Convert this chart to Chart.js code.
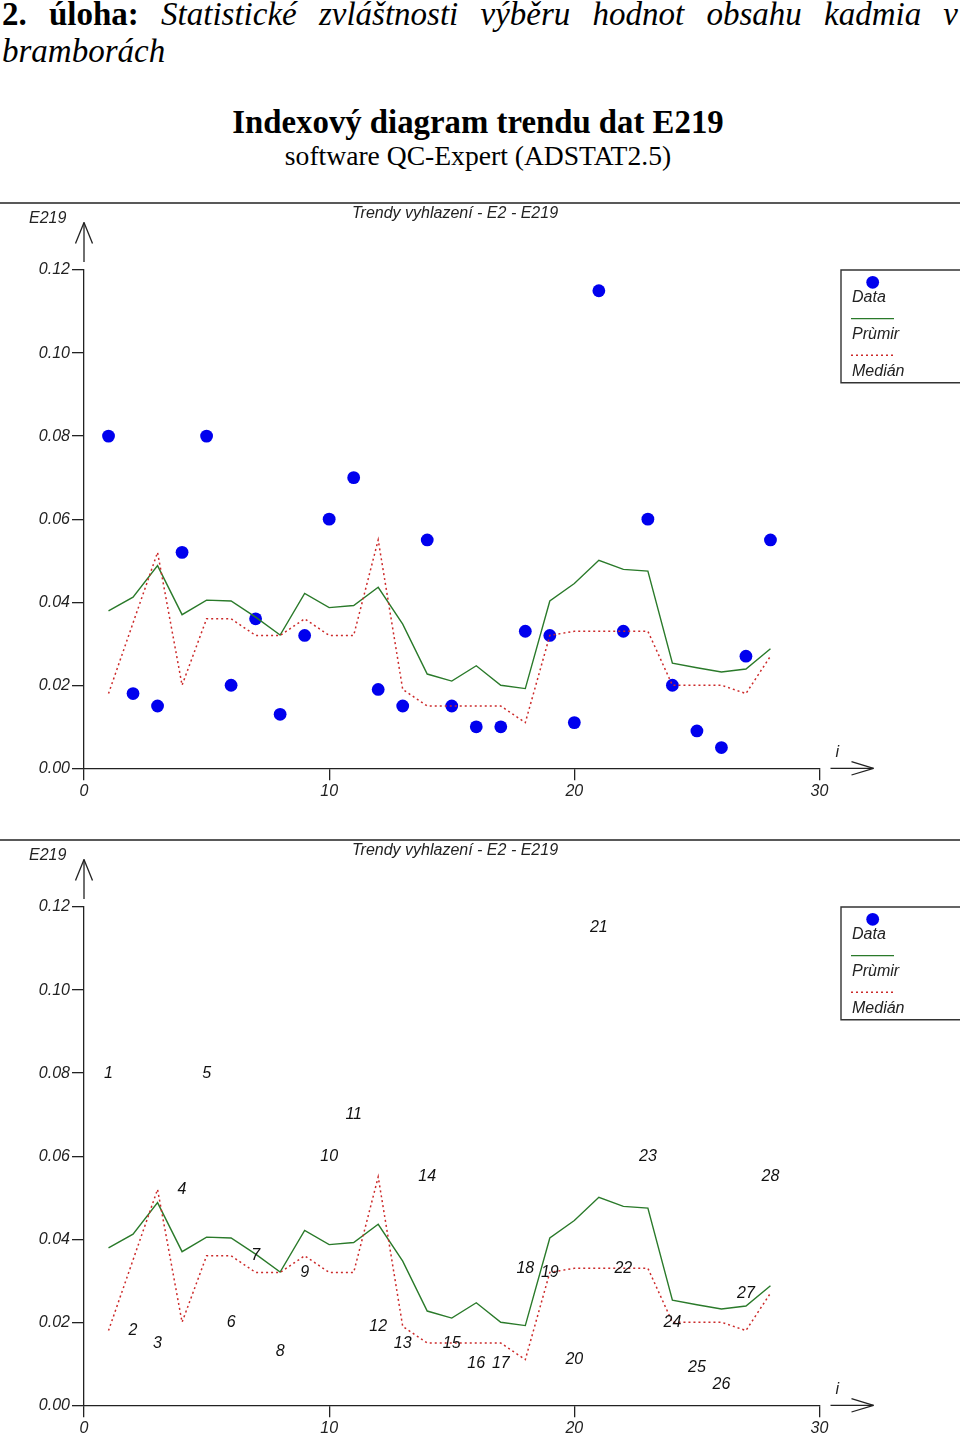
<!DOCTYPE html>
<html>
<head>
<meta charset="utf-8">
<script src="https://cdn.jsdelivr.net/npm/chart.js@4.4.1/dist/chart.umd.min.js"></script>
<style>
html,body{margin:0;padding:0;background:#fff;width:960px;height:1434px;overflow:hidden}
#page{position:relative;width:960px;height:1434px;overflow:hidden;background:#fff}
#l1{position:absolute;left:2px;top:-4px;width:956px;font-family:"Liberation Serif","Times New Roman",serif;font-size:33px;line-height:37px;text-align:justify;color:#000}
#title{position:absolute;left:0;top:106px;width:956px;text-align:center;font-family:"Liberation Serif","Times New Roman",serif;font-weight:bold;font-size:32.8px;line-height:33px;color:#000}
#sub{position:absolute;left:0;top:142px;width:956px;text-align:center;font-family:"Liberation Serif","Times New Roman",serif;font-size:27.6px;line-height:28px;color:#000}
canvas{position:absolute;left:0}
</style>
</head>
<body>
<div id="page">
<div id="l1"><b>2. úloha:</b> <i>Statistické zvláštnosti výběru hodnot obsahu kadmia v bramborách</i></div>
<div id="title">Indexový diagram trendu dat E219</div>
<div id="sub">software QC-Expert (ADSTAT2.5)</div>
<canvas id="c1" width="960" height="637" style="top:196px"></canvas>
<canvas id="c2" width="960" height="637" style="top:833px"></canvas>
</div>
<script>
// ---- data ----
const indices = [1,2,3,4,5,6,7,8,9,10,11,12,13,14,15,16,17,18,19,20,21,22,23,24,25,26,27,28];
const dataValues = [0.080,0.018,0.015,0.052,0.080,0.020,0.036,0.013,0.032,0.060,0.070,0.019,0.015,0.055,
                    0.015,0.010,0.010,0.033,0.032,0.011,0.115,0.033,0.060,0.020,0.009,0.005,0.027,0.055];
const meanValues = [0.0379,0.0412,0.0488,0.0370,0.0405,0.0403,0.0364,0.0321,0.0421,0.0387,0.0392,0.0436,0.0347,0.0227,
                    0.0210,0.0247,0.0200,0.0192,0.0403,0.0445,0.0501,0.0479,0.0475,0.0253,0.0242,0.0232,0.0239,0.0288];
const medianValues = [0.018,0.035,0.052,0.020,0.036,0.036,0.032,0.032,0.036,0.032,0.032,0.055,0.019,0.015,
                      0.015,0.015,0.015,0.011,0.032,0.033,0.033,0.033,0.033,0.020,0.020,0.020,0.018,0.027];
const xTicks = [0,10,20,30];
const xTickLabels = ['0','10','20','30'];
const yTicks = [0,0.02,0.04,0.06,0.08,0.10,0.12];
const yTickLabels = ['0.00','0.02','0.04','0.06','0.08','0.10','0.12'];
const legendLabels = ['Data','Prùmir','Medián'];
const yAxisTitle = 'E219';
const xAxisTitle = 'i';
const chartTitle = 'Trendy vyhlazení - E2 - E219';

// ---- styles ----
const BLUE = '#0000ee';
const GREEN = '#2a7a2a';
const RED = '#cc2a2a';
const AXIS = '#222222';
const FONT = '"Liberation Sans", Arial, sans-serif';

function seg(ctx,x1,y1,x2,y2){ctx.beginPath();ctx.moveTo(x1,y1);ctx.lineTo(x2,y2);ctx.stroke();}

const overlay = {
  id:'overlay',
  afterDatasetsDraw(chart, args, opts){
    if(!opts.labels) return;
    const ctx = chart.ctx;
    const meta = chart.getDatasetMeta(0);
    ctx.save();
    ctx.font = 'italic 16px ' + FONT;
    ctx.fillStyle = '#111';
    ctx.textAlign = 'center';
    ctx.textBaseline = 'alphabetic';
    meta.data.forEach((pt,i)=>{ ctx.fillText(String(indices[i]), pt.x, pt.y + 4.5); });
    ctx.restore();
  },
  afterDraw(chart){
    const {ctx, chartArea:{left,top,right,bottom}} = chart;
    ctx.save();
    ctx.strokeStyle = AXIS; ctx.lineWidth = 1.3;
    // header rule
    seg(ctx, 0, top-67, chart.width, top-67);
    // y arrow
    seg(ctx, left, top-8, left, top-47.5);
    seg(ctx, left-8.5, top-26.5, left, top-47.5);
    seg(ctx, left+8.5, top-26.5, left, top-47.5);
    // x arrow
    seg(ctx, right+11, bottom, right+54, bottom);
    seg(ctx, right+32, bottom-6.7, right+54, bottom);
    seg(ctx, right+32, bottom+6.7, right+54, bottom);
    // texts
    ctx.fillStyle = '#222';
    ctx.font = 'italic 16px ' + FONT;
    ctx.textAlign = 'left'; ctx.textBaseline = 'alphabetic';
    ctx.fillText(yAxisTitle, 29, top-47.3);
    ctx.fillText(chartTitle, 352, top-52.5);
    ctx.fillText(xAxisTitle, right+16, bottom-11.6);
    // legend (open on the right edge of the page)
    const lx = 841, lh = 112.7;
    ctx.strokeStyle = '#333'; ctx.lineWidth = 1.4;
    ctx.beginPath();
    ctx.moveTo(chart.width, top); ctx.lineTo(lx, top); ctx.lineTo(lx, top+lh); ctx.lineTo(chart.width, top+lh);
    ctx.stroke();
    ctx.fillStyle = BLUE;
    ctx.beginPath(); ctx.arc(872.7, top+12.3, 6.4, 0, Math.PI*2); ctx.fill();
    ctx.fillStyle = '#222';
    ctx.fillText(legendLabels[0], 852, top+31.7);
    ctx.strokeStyle = GREEN; ctx.lineWidth = 1.3;
    seg(ctx, 851, top+48.7, 894, top+48.7);
    ctx.fillText(legendLabels[1], 852, top+69.3);
    ctx.strokeStyle = RED; ctx.lineWidth = 1.5; ctx.setLineDash([2,3]);
    seg(ctx, 851, top+85.3, 894, top+85.3);
    ctx.setLineDash([]);
    ctx.fillText(legendLabels[2], 852, top+105.7);
    ctx.restore();
  }
};

function makeChart(id, showDots){
  const tickFont = {family: FONT, size: 16, style: 'italic'};
  return new Chart(document.getElementById(id), {
    type: 'scatter',
    data: {
      datasets: [
        {label: legendLabels[0], data: indices.map((x,i)=>({x:x, y:dataValues[i]})),
         pointRadius: showDots ? 6.4 : 0, pointHoverRadius: 0, pointBackgroundColor: BLUE, pointBorderWidth: 0,
         borderColor: BLUE, showLine: false, order: 3},
        {label: legendLabels[1], type: 'line', data: indices.map((x,i)=>({x:x, y:meanValues[i]})),
         borderColor: GREEN, borderWidth: 1.4, pointRadius: 0, fill: false, tension: 0, order: 2},
        {label: legendLabels[2], type: 'line', data: indices.map((x,i)=>({x:x, y:medianValues[i]})),
         borderColor: RED, borderWidth: 1.5, borderDash: [2,3], pointRadius: 0, fill: false, tension: 0, order: 1}
      ]
    },
    options: {
      responsive: false, animation: false, devicePixelRatio: 1,
      layout: {padding: {left: 0, top: 74, right: 140.5, bottom: 0}},
      plugins: {legend: {display: false}, tooltip: {enabled: false}, overlay: {labels: !showDots}},
      events: [],
      scales: {
        x: {
          type: 'linear', min: 0, max: 30,
          afterBuildTicks: s => { s.ticks = xTicks.map(v => ({value: v})); },
          afterFit: s => { s.height = 64.7; },
          ticks: {callback: (v, i) => xTickLabels[i], font: tickFont, color: '#222', padding: 2, maxRotation: 0, autoSkip: false},
          grid: {drawOnChartArea: false, drawTicks: true, tickLength: 12, color: AXIS, lineWidth: 1.3},
          border: {display: true, color: AXIS, width: 1.3}
        },
        y: {
          type: 'linear', min: 0, max: 0.12,
          afterBuildTicks: s => { s.ticks = yTicks.map(v => ({value: v})); },
          afterFit: s => { s.width = 84; },
          ticks: {callback: (v, i) => yTickLabels[i], font: tickFont, color: '#222', padding: 2, autoSkip: false},
          grid: {drawOnChartArea: false, drawTicks: true, tickLength: 12, color: AXIS, lineWidth: 1.3},
          border: {display: true, color: AXIS, width: 1.3}
        }
      }
    },
    plugins: [overlay]
  });
}
makeChart('c1', true);
makeChart('c2', false);
</script>
</body>
</html>
